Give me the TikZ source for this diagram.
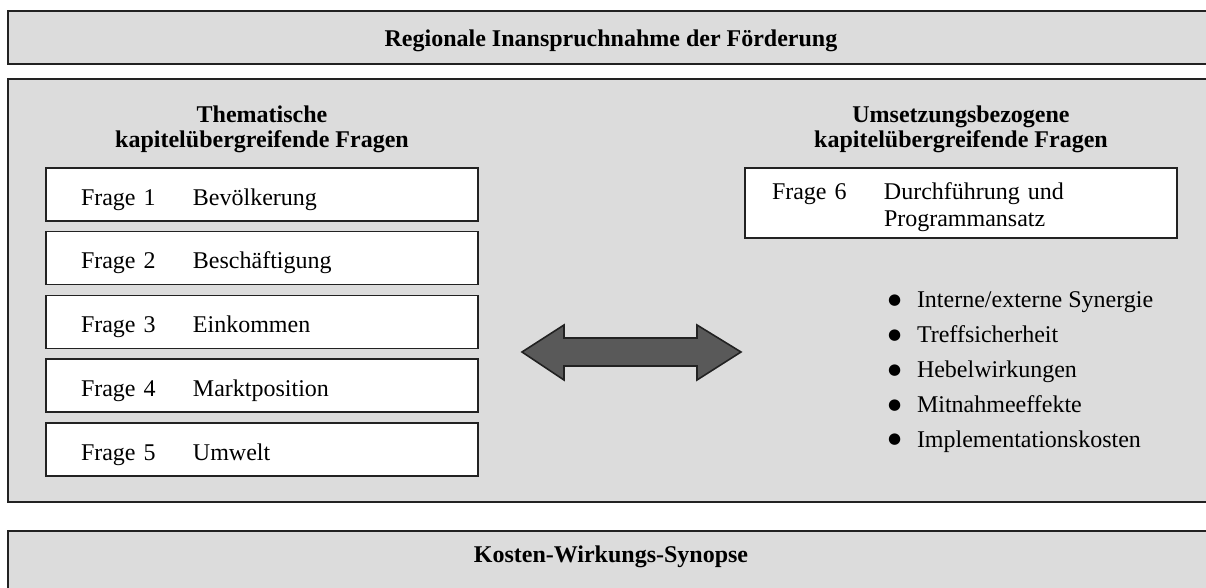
\documentclass[tikz,border=0pt]{standalone}
\usepackage{fontspec}
\setmainfont{Liberation Serif}
\newfontfamily\symfont{DejaVu Sans}
\usetikzlibrary{positioning}
\definecolor{cline}{HTML}{222222}
\definecolor{cpanel}{HTML}{DCDCDC}
\definecolor{carrow}{HTML}{595959}
\newcommand{\fragelabel}[1]{\makebox[56pt][l]{#1}}
\newcommand{\blt}{\makebox[14.5pt][l]{\raisebox{1.6pt}{\symfont\fontsize{7.5}{7.5}\selectfont ●}}}
\tikzset{
  every picture/.style={font=\fontsize{12}{12.5}\selectfont, line width=1pt},
  panel/.style={draw=cline, fill=cpanel, minimum width=603pt, inner sep=0pt},
  fbox/.style={draw=cline, fill=white, line width=0.9pt, align=left, inner ysep=0pt},
  frage/.style={fbox, text width=181pt, inner xsep=17.5pt, minimum height=26.5pt, text height=11pt, text depth=0pt},
  heading/.style={font=\fontsize{12}{12.5}\selectfont\bfseries, align=center, inner sep=0pt},
  dblarrow/.style={draw=cline, fill=carrow, line width=0.8pt, line join=miter},
}

\begin{document}
\begin{tikzpicture}[x=0.5pt, y=-0.5pt]
  \useasboundingbox (0,0) rectangle (1206,588);
  % panels
  \node[panel, minimum height=26.5pt, font=\fontsize{12}{12.5}\selectfont\bfseries, text height=9.5pt, text depth=0pt] (rif) at (611,37.5) {Regionale Inanspruchnahme der Förderung};
  \node[panel, minimum height=211.5pt] (mid) at (611,290.5) {};
  \node[panel, minimum height=34.5pt] (kwsbox) at (611,565.5) {};
  \node[heading, anchor=base] (kws) at (611,562) {Kosten-Wirkungs-Synopse};
  % headings
  \node[heading] (lhead) at (262,129.5) {Thematische\\kapitelübergreifende Fragen};
  \node[heading] (rhead) at (961,129.5) {Umsetzungsbezogene\\kapitelübergreifende Fragen};
  % thematic questions
  \node[frage] (f1) at (262,194.5) {\fragelabel{Frage 1}Bevölkerung};
  \node[frage] (f2) at (262,258) {\fragelabel{Frage 2}Beschäftigung};
  \node[frage] (f3) at (262,322) {\fragelabel{Frage 3}Einkommen};
  \node[frage] (f4) at (262,385.5) {\fragelabel{Frage 4}Marktposition};
  \node[frage] (f5) at (262,449.5) {\fragelabel{Frage 5}Umwelt};
  % implementation question
  \node[fbox, text width=189pt, inner xsep=13.5pt, minimum height=35pt, font=\fontsize{12}{13.5}\selectfont] (f6) at (961,203)
    {\rule{0pt}{13pt}\fragelabel{Frage 6}Durchführung und\\\hspace*{56pt}Programmansatz};
  \node[anchor=north west, align=left, inner sep=0pt, font=\fontsize{12}{17.4}\selectfont] (crit) at (887,291)
    {\blt Interne/externe Synergie\\\blt Treffsicherheit\\\blt Hebelwirkungen\\\blt Mitnahmeeffekte\\\blt Implementationskosten};
  % double arrow
  \draw[dblarrow] (522,352) -- (564,325) -- (564,338) -- (697,338) -- (697,325) -- (741,352)
    -- (697,380) -- (697,366) -- (564,366) -- (564,380) -- cycle;
\end{tikzpicture}
\end{document}
